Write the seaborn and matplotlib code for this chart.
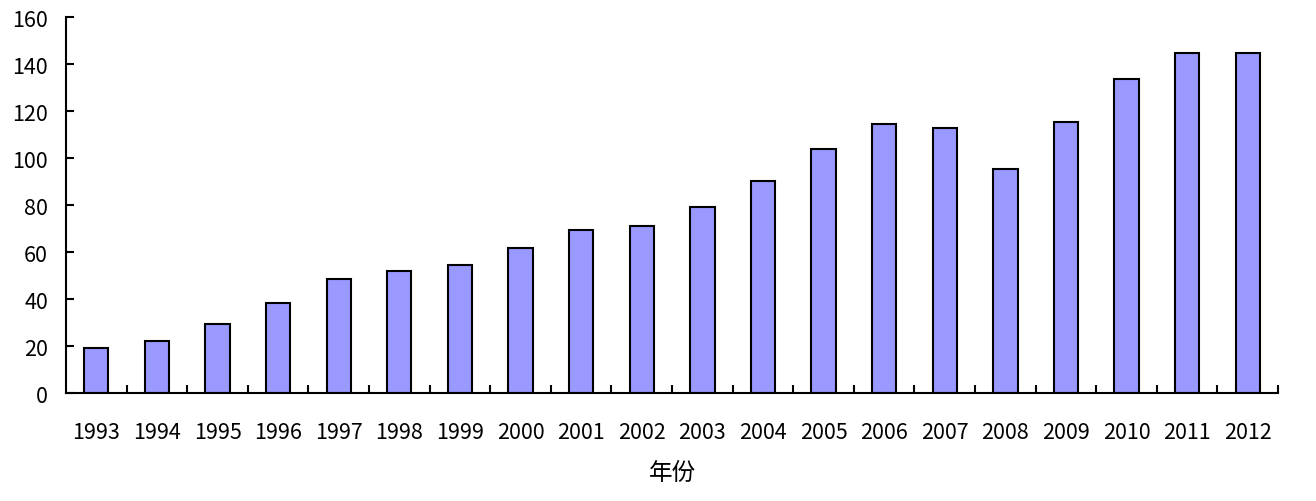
import matplotlib
matplotlib.use("Agg")
import matplotlib.pyplot as plt
import seaborn as sns
import pandas as pd

# значения
years = [str(y) for y in range(1993, 2013)]
values = [19, 22, 29.3, 38.3, 48.4, 51.8, 54.5, 61.8, 69.2, 70.9,
          79.1, 90.2, 103.7, 114.6, 112.6, 95.4, 115.4, 133.6, 144.5, 144.5]
yticks = [0, 20, 40, 60, 80, 100, 120, 140, 160]

sns.set_style("white")
plt.rcParams['font.family'] = ['Noto Sans CJK SC', 'DejaVu Sans']
plt.rcParams['text.color'] = 'black'
plt.rcParams['xtick.color'] = 'black'
plt.rcParams['ytick.color'] = 'black'
plt.rcParams['axes.labelcolor'] = 'black'

df = pd.DataFrame({"year": years, "value": values})

fig = plt.figure(figsize=(13.16, 5.02), dpi=100)
ax = fig.add_axes([0.0502, 0.215, 0.921, 0.749])

sns.barplot(data=df, x="year", y="value", color="#9999FF", saturation=1,
            edgecolor="black", linewidth=1.5, width=0.4, ax=ax)

ax.set_xlim(-0.5, len(years) - 0.5)
ax.set_ylim(0, 160)
ax.set_yticks(yticks)
ax.set_yticklabels([str(t) for t in yticks], fontsize=15.5)

# подписи лет по центру, засечки между столбиками
ax.set_xticks(range(len(years)))
ax.set_xticklabels(years, fontsize=15.5)
ax.tick_params(axis="x", which="major", bottom=True, length=0, pad=20)
ax.set_xticks([i + 0.5 for i in range(len(years))], minor=True)
ax.tick_params(axis="x", which="minor", bottom=True, direction="in",
               length=6, width=1.5, color="black")
ax.tick_params(axis="y", left=True, direction="in", length=6, width=1.5,
               color="black", pad=13)

ax.set_xlabel("年份", fontsize=17, labelpad=13)
ax.set_ylabel("")

for side in ["top", "right"]:
    ax.spines[side].set_visible(False)
for side in ["left", "bottom"]:
    ax.spines[side].set_linewidth(1.5)
    ax.spines[side].set_color("black")

fig.savefig("out.png", dpi=100)
